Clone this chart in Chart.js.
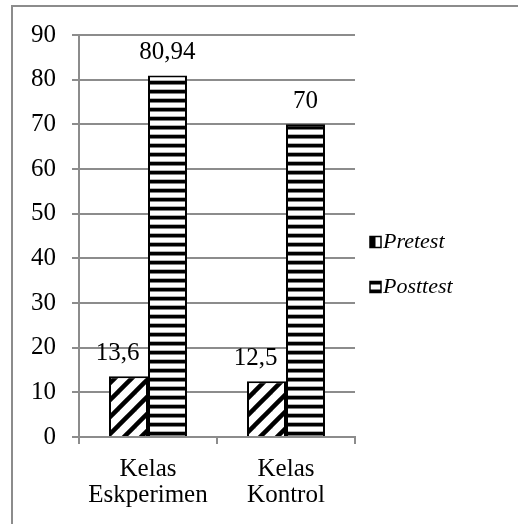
<!DOCTYPE html>
<html><head><meta charset="utf-8">
<script src="https://cdn.jsdelivr.net/npm/chart.js@4"></script>
<style>
html,body{margin:0;padding:0;background:#fff;}
#wrap{position:relative;width:518px;height:524px;overflow:hidden;}
#frame{position:absolute;left:11px;top:5px;width:600px;height:600px;border-left:2px solid #8c8c8c;border-top:2px solid #8c8c8c;pointer-events:none;}
canvas{position:absolute;left:0;top:0;}
</style></head><body>
<div id="wrap"><canvas id="c" width="518" height="524"></canvas><div id="frame"></div></div>
<script>
// ---- data ----
const categories = [['Kelas', 'Eskperimen'], ['Kelas', 'Kontrol']];
const seriesNames = ['Pretest', 'Posttest'];
const pretest = [13.6, 12.5];
const posttest = [80.94, 70];
const yMin = 0, yMax = 90, yStep = 10;

const FONT = '"Liberation Serif", "Times New Roman", serif';
const FS = 25;

function diagPattern() {
  const s = 17, c = document.createElement('canvas');
  c.width = s; c.height = s;
  const g = c.getContext('2d');
  g.fillStyle = '#fff'; g.fillRect(0, 0, s, s);
  g.strokeStyle = '#000'; g.lineWidth = 4.5;
  [0, s, 2 * s].forEach(k => { g.beginPath(); g.moveTo(-s, k + s); g.lineTo(k + s, -s); g.stroke(); });
  return c;
}
function horizPattern() {
  const s = 9, c = document.createElement('canvas');
  c.width = s; c.height = s;
  const g = c.getContext('2d');
  g.fillStyle = '#fff'; g.fillRect(0, 0, s, s);
  g.fillStyle = '#000'; g.fillRect(0, 0, s, 3);
  g.fillStyle = '#808080'; g.fillRect(0, 3, s, 1);
  g.fillStyle = '#b0b0b0'; g.fillRect(0, 8, s, 1);
  return c;
}
const ctx0 = document.getElementById('c').getContext('2d');
const patPre = ctx0.createPattern(diagPattern(), 'repeat');
const patPost = ctx0.createPattern(horizPattern(), 'repeat');

const labelPlugin = {
  id: 'valueLabels',
  afterDatasetsDraw(chart) {
    const ctx = chart.ctx;
    ctx.save();
    ctx.font = FS + 'px ' + FONT;
    ctx.fillStyle = '#000';
    ctx.textAlign = 'center';
    ctx.textBaseline = 'alphabetic';
    chart.data.datasets.forEach((ds, i) => {
      const meta = chart.getDatasetMeta(i);
      meta.data.forEach((el, j) => {
        const txt = String(ds.data[j]).replace('.', ',');
        ctx.fillText(txt, el.x + (i === 0 ? -11 : 0), el.y - 16);
      });
    });
    ctx.restore();
  }
};

const legendPlugin = {
  id: 'sideLegend',
  afterDraw(chart) {
    const ctx = chart.ctx, ca = chart.chartArea;
    const x0 = ca.right + 15;
    const cy = chart.height / 2 + 2;
    ctx.save();
    chart.data.datasets.forEach((ds, i) => {
      const y = cy - 22.5 + i * 45;
      const bx = x0, by = y - 5, bw = 11, bh = 11;
      ctx.fillStyle = '#fff';
      ctx.fillRect(bx, by, bw, bh);
      ctx.fillStyle = '#000';
      if (i === 0) {
        ctx.fillRect(bx, by, bw / 2, bh);
      } else {
        ctx.fillRect(bx, by, bw, 3);
        ctx.fillRect(bx, by + bh - 3, bw, 3);
      }
      ctx.strokeStyle = '#000'; ctx.lineWidth = 1.5;
      ctx.strokeRect(bx, by, bw, bh);
      ctx.font = 'italic 22px ' + FONT;
      ctx.textAlign = 'left';
      ctx.textBaseline = 'middle';
      ctx.fillText(ds.label, bx + 13, y + 1);
    });
    ctx.restore();
  }
};

new Chart(document.getElementById('c'), {
  type: 'bar',
  data: {
    labels: categories,
    datasets: [
      { label: seriesNames[0], data: pretest, backgroundColor: patPre, borderColor: '#000', borderWidth: 2, categoryPercentage: 0.565, barPercentage: 1.0 },
      { label: seriesNames[1], data: posttest, backgroundColor: patPost, borderColor: '#000', borderWidth: 2, categoryPercentage: 0.565, barPercentage: 1.0 }
    ]
  },
  options: {
    responsive: false,
    animation: false,
    devicePixelRatio: 1,
    layout: { padding: { left: 12, top: 35, right: 163, bottom: 4 } },
    plugins: { legend: { display: false }, tooltip: { enabled: false } },
    scales: {
      x: {
        grid: { display: true, drawOnChartArea: false, drawTicks: true, tickLength: 7, color: '#8c8c8c', lineWidth: 2, offset: true },
        border: { color: '#8c8c8c', width: 2 },
        ticks: { color: '#000', font: { family: FONT, size: FS, lineHeight: 1.04 }, padding: 12, maxRotation: 0, autoSkip: false }
      },
      y: {
        min: yMin, max: yMax,
        ticks: { stepSize: yStep, color: '#000', font: { family: FONT, size: FS }, padding: 16 },
        grid: { color: '#8c8c8c', lineWidth: 2, tickLength: 7 },
        border: { color: '#8c8c8c', width: 2 },
        afterFit(scale) { scale.width = 67; }
      }
    }
  },
  plugins: [labelPlugin, legendPlugin]
});
</script>
</body></html>
